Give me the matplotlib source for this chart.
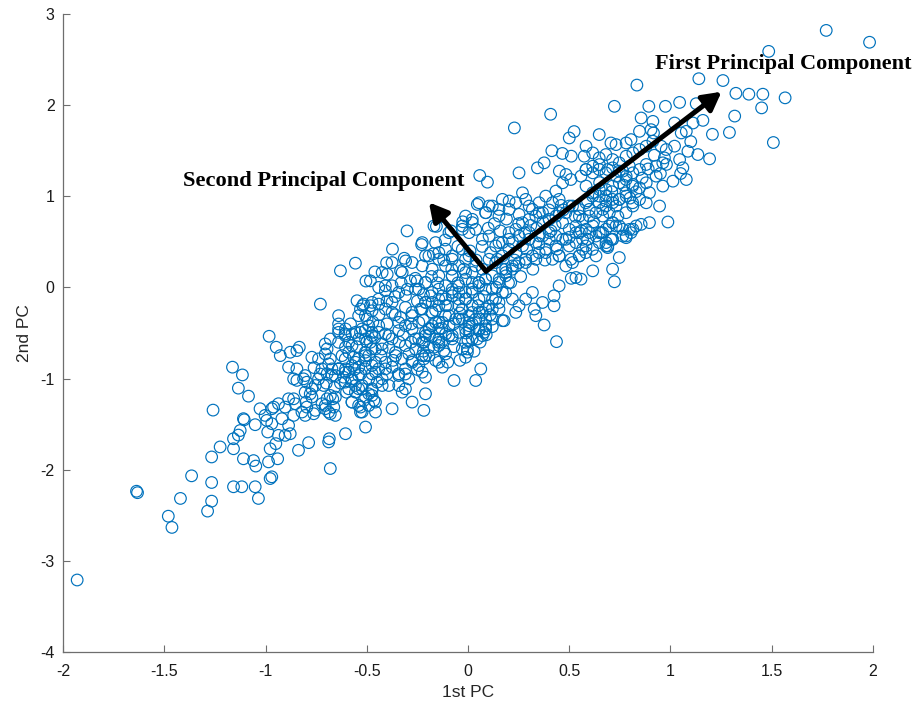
import matplotlib
matplotlib.use("Agg")
import matplotlib.pyplot as plt

plt.rcParams['axes.unicode_minus'] = False

# ---- data (1st PC, 2nd PC), grouped by region ----
tail_low = [
    (-1.930, -3.210), (-1.637, -2.236), (-1.632, -2.252), (-1.480, -2.510), (-1.462, -2.633),
    (-1.420, -2.315), (-1.365, -2.067), (-1.286, -2.454), (-1.266, -2.345), (-1.266, -2.140),
    (-1.266, -1.860), (-1.259, -1.346), (-1.224, -1.750), (-1.163, -0.875), (-1.158, -2.187),
    (-1.158, -1.770), (-1.158, -1.660), (-1.134, -1.620), (-1.125, -1.570), (-1.134, -1.105),
    (-1.117, -2.187), (-1.114, -0.960), (-1.109, -1.440), (-1.105, -1.452), (-1.109, -1.880),
    (-1.084, -1.193), (-1.059, -1.900), (-1.051, -1.506), (-1.048, -1.960), (-1.051, -2.187),
    (-1.035, -2.315), (-1.027, -1.331), (-1.002, -1.404), (-0.994, -1.459), (-0.989, -1.586),
    (-0.985, -1.914), (-0.982, -0.536), (-0.977, -2.097), (-0.969, -2.078), (-0.977, -1.770),
    (-0.969, -1.495), (-0.960, -1.313), (-0.949, -1.714), (-0.947, -0.656), (-0.940, -1.880),
    (-0.936, -1.623), (-0.936, -1.276), (-0.927, -0.748), (-0.919, -1.440), (-0.903, -1.313),
    (-0.903, -1.623), (-0.886, -1.514), (-0.878, -1.605), (-0.886, -0.875), (-0.878, -0.711),
    (-0.861, -1.003), (-0.861, -1.222), (-0.861, -1.404), (-0.845, -0.894), (-0.845, -1.020),
    (-0.845, -0.693), (-0.833, -0.656), (-0.837, -1.787), (-0.969, -1.331), (-0.804, -0.967),
    (-0.738, -1.003), (-0.713, -1.076), (-0.680, -1.185), (-0.705, -1.295), (-0.754, -1.349),
    (-0.853, -1.276), (-0.886, -1.222),
]

mid_left = [
    (-0.820, -1.367), (-0.804, -1.404), (-0.762, -1.386), (-0.796, -1.313), (-0.800, -1.258),
    (-0.721, -1.276), (-0.696, -1.222), (-0.668, -1.222), (-0.655, -1.404), (-0.680, -1.386),
    (-0.705, -1.331), (-0.663, -1.313), (-0.812, -1.003), (-0.796, -1.040), (-0.771, -1.112),
    (-0.779, -1.167), (-0.804, -1.149), (-0.771, -1.203), (-0.754, -1.076), (-0.771, -0.766),
    (-0.738, -0.784), (-0.705, -0.730), (-0.688, -0.839), (-0.672, -0.894), (-0.721, -0.894),
    (-0.696, -0.948), (-0.655, -0.967), (-0.705, -0.620), (-0.680, -0.566), (-0.639, -0.602),
    (-0.605, -0.656), (-0.622, -0.748), (-0.589, -0.711), (-0.564, -0.766), (-0.540, -0.875),
    (-0.605, -0.894), (-0.639, -0.894), (-0.573, -1.003), (-0.614, -0.985), (-0.556, -1.076),
    (-0.523, -1.112), (-0.506, -1.203), (-0.490, -1.295), (-0.457, -1.367), (-0.531, -1.367),
    (-0.639, -0.401), (-0.605, -0.456), (-0.573, -0.511), (-0.531, -0.493), (-0.506, -0.566),
    (-0.474, -0.493), (-0.482, -0.602), (-0.457, -0.675), (-0.490, -0.748), (-0.506, -0.803),
    (-0.474, -0.857), (-0.457, -0.930), (-0.490, -1.003), (-0.449, -1.040), (-0.474, -1.112),
    (-0.573, -1.258), (-0.531, -1.313), (-0.515, -1.240), (-0.474, -1.131), (-0.465, -1.240),
    (-0.506, -1.532), (-0.680, -1.987), (-0.688, -1.695), (-0.685, -1.660), (-0.605, -1.605),
    (-0.787, -1.703), (-0.729, -0.183), (-0.696, -0.675), (-0.680, -0.784), (-0.639, -0.456),
    (-0.607, -0.511), (-0.589, -0.602), (-0.556, -0.493), (-0.523, -0.456), (-0.498, -0.347),
    (-0.531, -0.237), (-0.474, -0.164), (-0.441, -0.128), (-0.655, -1.203), (-0.688, -1.367),
]

mid_core = [
    (-0.441, -0.420), (-0.391, -0.529), (-0.342, -0.383), (-0.276, -0.310), (-0.226, -0.237),
    (-0.177, -0.164), (-0.127, -0.092), (-0.078, -0.019), (-0.424, -0.675), (-0.358, -0.748),
    (-0.309, -0.638), (-0.259, -0.565), (-0.210, -0.493), (-0.160, -0.383), (-0.111, -0.310),
    (-0.144, -0.602), (-0.094, -0.529), (-0.276, -0.821), (-0.226, -0.748), (-0.342, -0.967),
    (-0.408, -0.894), (-0.457, -0.821), (-0.507, -0.748), (-0.556, -0.821), (-0.589, -0.930),
    (-0.639, -0.894), (-0.671, -0.967), (-0.606, -1.039), (-0.540, -1.112), (-0.474, -1.185),
    (-0.424, -1.076), (-0.309, -1.112), (-0.276, -1.258), (-0.144, -0.019), (-0.177, 0.200),
    (-0.111, 0.236), (-0.078, 0.127), (-0.210, 0.054), (-0.259, -0.019), (-0.309, -0.092),
    (-0.375, -0.164), (-0.408, 0.018), (-0.325, 0.164), (-0.276, 0.273), (-0.210, 0.346),
    (-0.144, 0.382), (-0.078, 0.309),
    (-0.556, 0.266), (-0.630, 0.182), (-0.482, 0.072), (-0.424, 0.164), (-0.399, 0.145),
    (-0.375, 0.273), (-0.333, 0.182), (-0.308, 0.291), (-0.284, 0.072), (-0.251, 0.072),
    (-0.243, -0.019), (-0.441, 0.000), (-0.408, -0.037), (-0.375, 0.018), (-0.342, -0.055),
    (-0.548, -0.146), (-0.515, -0.183), (-0.482, -0.201), (-0.540, -0.310), (-0.507, -0.310),
    (-0.474, -0.256), (-0.441, -0.183), (-0.408, -0.237), (-0.375, -0.274), (-0.333, -0.328),
    (-0.309, -0.219), (-0.276, -0.274), (-0.234, -0.237), (-0.210, -0.164), (-0.185, -0.092),
    (-0.177, -0.274), (-0.144, -0.201), (-0.111, -0.128), (-0.078, -0.055), (-0.045, -0.128),
    (-0.012, -0.055), (0.021, -0.019), (0.054, 0.054), (0.087, 0.091), (0.120, 0.127),
    (0.154, 0.091), (0.187, 0.164), (0.219, 0.236), (0.211, 0.054), (0.170, -0.055),
    (0.137, -0.128), (0.104, -0.201), (0.071, -0.274), (0.038, -0.347), (0.005, -0.310),
    (-0.028, -0.237), (-0.061, -0.347), (-0.094, -0.310), (-0.127, -0.383), (-0.144, -0.456),
    (-0.177, -0.420), (-0.210, -0.529), (-0.243, -0.565), (-0.276, -0.456), (-0.309, -0.420),
    (-0.342, -0.474), (-0.375, -0.565), (-0.408, -0.511), (-0.441, -0.493), (-0.474, -0.529),
    (-0.507, -0.474), (-0.540, -0.565), (-0.573, -0.638), (-0.606, -0.529), (-0.639, -0.493),
    (-0.639, -0.310), (-0.606, -0.784), (-0.573, -0.857), (-0.540, -0.784), (-0.507, -0.711),
    (-0.474, -0.675), (-0.424, -0.620), (-0.391, -0.657), (-0.358, -0.711), (-0.325, -0.784),
    (-0.292, -0.730), (-0.259, -0.675), (-0.226, -0.602), (-0.193, -0.657), (-0.160, -0.565),
    (-0.111, -0.511), (-0.078, -0.565), (-0.045, -0.493), (-0.012, -0.456), (0.021, -0.565),
    (0.054, -0.474), (0.087, -0.420), (0.120, -0.347), (0.170, -0.365), (0.071, -0.529),
    (-0.012, -0.602), (-0.003, -0.675), (-0.012, -0.766), (-0.111, -0.730), (-0.144, -0.638),
    (-0.193, -0.748), (-0.218, -0.784), (-0.243, -0.857), (-0.276, -0.803), (-0.309, -0.894),
    (-0.342, -0.948), (-0.375, -0.875), (-0.408, -0.821), (-0.441, -0.894), (-0.474, -0.948),
    (-0.507, -0.894), (-0.540, -0.967), (-0.573, -1.021), (-0.606, -0.930), (-0.639, -0.894),
    (-0.589, -1.112), (-0.556, -1.149), (-0.523, -1.076), (-0.490, -1.167), (-0.457, -1.258),
    (-0.540, -1.295), (-0.573, -1.258), (-0.523, -1.367), (-0.391, -1.076), (-0.325, -1.149),
    (-0.375, -1.331), (-0.210, -1.167), (-0.218, -1.349), (-0.127, -0.875), (-0.069, -1.021),
    (0.038, -1.021), (0.063, -0.894), (-0.210, -0.985), (-0.292, -1.003), (-0.424, -1.003),
    (-0.342, -1.076),
]

core_upper = [
    (-0.168, 0.674), (-0.226, 0.492), (-0.160, 0.492), (-0.094, 0.601), (-0.028, 0.638),
    (0.021, 0.711), (0.088, 0.820), (0.046, 0.911), (0.104, 0.893), (0.153, 0.783),
    (0.203, 0.856), (0.252, 0.802), (0.302, 0.893), (0.352, 0.820), (0.401, 0.747),
    (0.450, 0.820), (0.500, 0.893), (0.550, 0.783), (0.599, 0.856), (0.665, 0.783),
    (0.714, 0.711), (0.764, 0.638), (0.805, 0.601), (0.781, 0.546), (0.682, 0.492),
    (0.657, 0.601), (0.591, 0.528), (0.533, 0.601), (0.483, 0.528), (0.434, 0.455),
    (0.384, 0.382), (0.335, 0.309), (0.285, 0.273), (0.236, 0.237), (0.186, 0.200),
    (0.145, 0.309), (0.112, 0.382), (0.153, 0.492), (0.203, 0.528), (0.252, 0.565),
    (0.302, 0.601), (0.352, 0.565), (0.401, 0.528), (0.450, 0.346), (0.508, 0.309),
    (0.566, 0.419), (0.632, 0.346), (0.690, 0.437), (0.706, 0.528),
    (-0.226, 0.237), (-0.193, 0.346), (-0.144, 0.309), (-0.111, 0.419), (-0.078, 0.346),
    (-0.045, 0.237), (-0.012, 0.309), (0.021, 0.164), (0.054, 0.054), (0.088, -0.019),
    (0.121, -0.128), (0.153, -0.237), (-0.210, 0.054), (-0.177, -0.055), (-0.144, 0.127),
    (-0.111, 0.018), (-0.078, 0.127), (-0.045, 0.018), (-0.012, 0.091), (0.021, -0.055),
    (0.054, -0.128), (0.088, -0.237), (-0.210, -0.164), (-0.177, -0.274), (-0.144, -0.128),
    (-0.111, -0.201), (-0.078, -0.092), (-0.045, -0.201), (-0.012, -0.128), (0.021, -0.274),
    (0.054, -0.347), (-0.243, -0.383), (-0.193, -0.456), (-0.144, -0.383), (-0.094, -0.420),
    (-0.045, -0.347), (0.005, -0.383), (-0.210, -0.748), (-0.144, -0.821), (-0.226, -0.930),
    (-0.119, -0.693),
    (0.376, -0.412), (0.437, -0.595), (0.327, -0.237), (0.236, -0.274), (0.178, -0.365),
    (0.079, -0.493), (-0.028, -0.675), (-0.003, -0.711), (-0.168, -0.657), (-0.218, -0.602),
    (-0.144, -0.565), (-0.078, -0.529), (0.046, -0.565), (0.087, -0.456), (0.005, -0.474),
    (-0.026, 0.720), (-0.084, 0.620), (-0.142, 0.770), (-0.156, 0.670), (-0.301, 0.620),
    (-0.373, 0.420), (-0.315, 0.320), (-0.229, 0.470), (-0.171, 0.370), (-0.113, 0.520),
    (-0.402, 0.270), (-0.460, 0.170), (-0.504, 0.070),
]

core_right = [
    (0.058, 1.228), (0.096, 1.155), (0.252, 1.257), (0.343, 1.312), (0.376, 1.367),
    (0.451, 1.276), (0.484, 1.239), (0.508, 1.184), (0.467, 1.148), (0.434, 1.057),
    (0.583, 1.294), (0.616, 1.257), (0.649, 1.348), (0.690, 1.294), (0.731, 1.221),
    (0.764, 1.276), (0.797, 1.330),
    (0.813, 1.111), (0.780, 1.038), (0.747, 0.966), (0.714, 0.929), (0.681, 1.002),
    (0.648, 1.075), (0.615, 1.002), (0.582, 0.929), (0.549, 0.856), (0.516, 0.893),
    (0.483, 0.820), (0.450, 0.966), (0.417, 0.929), (0.384, 1.002), (0.351, 0.929),
    (0.318, 0.856), (0.285, 0.966), (0.269, 1.038), (0.236, 0.929), (0.203, 0.948),
    (0.170, 0.966), (0.153, 0.856), (0.120, 0.893), (0.087, 0.820), (0.054, 0.929),
    (0.021, 0.747), (-0.012, 0.783), (-0.028, 0.674), (0.005, 0.601), (0.038, 0.637),
    (0.071, 0.528), (0.104, 0.564), (0.137, 0.455), (0.170, 0.492), (0.203, 0.601),
    (0.236, 0.637), (0.269, 0.710), (0.302, 0.747), (0.335, 0.783), (0.368, 0.820),
    (0.401, 0.747), (0.434, 0.783), (0.467, 0.710), (0.500, 0.637), (0.533, 0.674),
    (0.566, 0.747), (0.599, 0.783), (0.632, 0.820), (0.665, 0.856), (0.698, 0.820),
    (0.731, 0.893), (0.780, 0.820), (0.813, 0.929), (0.830, 0.674), (0.797, 0.637),
    (0.764, 0.564), (0.731, 0.674), (0.698, 0.674), (0.665, 0.601), (0.632, 0.564),
    (0.599, 0.601), (0.566, 0.528), (0.533, 0.492), (0.500, 0.455), (0.467, 0.528),
    (0.434, 0.564), (0.401, 0.601), (0.368, 0.564), (0.335, 0.492), (0.302, 0.528),
    (0.269, 0.455), (0.236, 0.382), (0.203, 0.419), (0.170, 0.346), (0.137, 0.273),
    (0.104, 0.309), (0.071, 0.200), (0.038, 0.236), (0.005, 0.346), (-0.028, 0.419),
    (-0.012, 0.163), (0.021, 0.054), (0.054, 0.018), (0.087, 0.091), (0.120, -0.019),
    (0.153, 0.054), (0.186, 0.127), (0.219, 0.200), (0.252, 0.273), (0.285, 0.309),
    (0.318, 0.346), (0.351, 0.382), (0.384, 0.419), (0.417, 0.309), (0.450, 0.346),
    (0.483, 0.236), (0.516, 0.273), (0.549, 0.346), (0.582, 0.382), (0.615, 0.419),
    (0.648, 0.492), (0.681, 0.455), (0.714, 0.528), (0.533, 0.109), (0.450, 0.018),
    (0.425, -0.092), (0.425, -0.201), (0.368, -0.165), (0.335, -0.310), (0.318, -0.055),
    (0.285, -0.128), (0.252, -0.201), (0.219, -0.128), (0.186, -0.055), (0.153, -0.165),
    (0.120, -0.238), (0.087, -0.347), (0.054, -0.274), (0.021, -0.201), (-0.012, -0.128),
    (-0.045, -0.055), (0.005, -0.420), (0.054, -0.456), (-0.028, -0.347),
]

core_fill = [
    (-0.40, -0.40), (-0.36, -0.30), (-0.32, -0.52), (-0.28, -0.40), (-0.25, -0.15),
    (-0.22, -0.36), (-0.19, -0.52), (-0.16, -0.25), (-0.13, -0.45), (-0.10, -0.20),
    (-0.07, -0.40), (-0.04, -0.28), (-0.01, -0.50), (0.02, -0.40), (0.05, -0.20),
    (0.08, -0.10), (0.11, -0.30), (0.14, 0.00), (0.17, 0.20), (0.20, 0.05),
    (0.23, 0.30), (0.26, 0.12), (0.29, 0.42), (0.32, 0.20), (0.35, 0.48),
    (0.38, 0.30), (0.41, 0.62), (0.44, 0.42), (0.47, 0.85), (0.50, 0.55),
    (0.53, 0.78), (0.56, 0.62), (0.59, 0.95), (0.62, 0.72), (0.65, 1.15),
    (0.68, 0.95), (0.71, 1.05), (0.74, 0.78), (0.77, 1.12), (0.80, 0.98),
    (0.83, 1.05), (0.86, 1.20), (0.89, 1.30), (0.92, 1.45), (0.95, 1.25),
    (0.98, 1.35), (1.02, 1.55), (1.05, 1.25), (1.10, 1.60),
    (-0.58, -0.40), (-0.55, -0.65), (-0.52, -0.20), (-0.49, -0.42), (-0.46, -0.55),
    (-0.43, -0.75), (-0.40, -0.95), (-0.37, -0.80), (-0.34, -0.60), (-0.31, -0.95),
    (-0.28, -0.60), (-0.25, -0.90), (-0.22, -0.70), (-0.19, -0.45), (-0.16, -0.80),
    (-0.13, -0.60), (-0.10, -0.82), (-0.07, -0.65), (-0.04, -0.80), (0.00, -0.58),
    (0.03, -0.70), (0.06, -0.60), (0.09, -0.52), (0.12, -0.43),
    (-0.05, 0.05), (-0.02, 0.20), (0.01, 0.40), (0.04, 0.30), (0.07, 0.45),
    (0.10, 0.65), (0.13, 0.70), (0.16, 0.62), (0.19, 0.75), (0.22, 0.50),
    (0.25, 0.70), (0.28, 0.60), (0.31, 0.68), (0.34, 0.65), (0.37, 0.72),
    (0.40, 0.85), (0.43, 0.68), (0.46, 0.90),
    (-0.05, 0.45), (-0.08, 0.20), (-0.12, 0.30), (-0.15, 0.05), (-0.18, 0.12),
    (-0.22, -0.08), (-0.26, 0.10), (-0.30, -0.02), (-0.33, 0.05), (-0.36, -0.10),
    (-0.40, -0.15), (-0.44, -0.30), (-0.47, -0.38), (-0.50, -0.60), (-0.53, -0.95),
    (-0.56, -0.90), (-0.60, -1.15), (-0.63, -1.05), (-0.66, -1.10), (-0.70, -1.05),
    (-0.73, -0.95), (-0.76, -0.88),
]

upper_band = [
    (0.855, 1.859), (0.913, 1.822), (0.904, 1.731), (0.916, 1.695), (0.847, 1.713),
    (0.805, 1.622), (0.781, 1.585), (0.731, 1.567), (0.706, 1.585), (0.648, 1.677),
    (0.583, 1.549), (0.574, 1.440), (0.616, 1.476), (0.648, 1.421), (0.681, 1.458),
    (0.714, 1.403), (0.747, 1.367), (0.781, 1.440), (0.814, 1.476), (0.847, 1.513),
    (0.880, 1.549), (0.913, 1.604), (0.954, 1.549), (0.979, 1.513), (0.970, 1.421),
    (0.962, 1.367), (0.929, 1.330), (0.880, 1.349), (0.847, 1.294), (0.814, 1.257),
    (0.781, 1.221), (0.747, 1.276), (0.714, 1.312), (0.681, 1.257), (0.648, 1.294),
    (0.616, 1.330), (0.583, 1.294), (0.558, 1.221), (0.583, 1.112), (0.616, 1.039),
    (0.648, 1.002), (0.681, 1.075), (0.714, 1.112), (0.747, 1.148), (0.781, 1.184),
    (0.814, 1.130), (0.847, 1.093), (0.880, 1.148), (0.929, 1.221), (0.962, 1.112),
    (1.012, 1.166), (1.078, 1.184), (1.061, 1.312), (1.045, 1.403), (1.086, 1.494),
    (1.135, 1.458), (1.193, 1.411), (1.053, 1.695), (1.078, 1.713), (1.020, 1.804),
    (1.111, 1.804), (1.160, 1.833), (0.723, 1.987), (0.893, 1.987), (0.975, 1.987),
    (1.045, 2.030), (1.127, 2.016),
    (0.648, 0.929), (0.681, 0.893), (0.714, 0.966), (0.747, 0.966), (0.781, 1.002),
    (0.814, 0.893), (0.847, 0.966), (0.880, 0.929), (0.896, 1.039), (0.946, 0.893),
    (0.987, 0.718), (0.896, 0.711), (0.855, 0.692), (0.814, 0.638), (0.781, 0.565),
    (0.747, 0.674), (0.714, 0.711), (0.681, 0.638), (0.648, 0.601), (0.616, 0.674),
    (0.583, 0.638), (0.550, 0.601), (0.714, 0.528), (0.690, 0.455), (0.747, 0.328),
    (0.714, 0.200), (0.616, 0.182), (0.558, 0.091), (0.723, 0.062), (0.550, 0.346),
    (0.583, 0.455), (0.510, 0.100),
    (0.524, 1.710), (0.500, 1.640), (0.510, 1.440), (0.408, 1.900), (0.229, 1.750),
    (0.414, 1.500), (0.466, 1.470),
]

tail_high = [
    (1.769, 2.820), (1.983, 2.690), (1.485, 2.590), (0.834, 2.220), (1.140, 2.290),
    (1.259, 2.270), (1.323, 2.130), (1.387, 2.120), (1.456, 2.120), (1.566, 2.080),
    (1.450, 1.970), (1.317, 1.880), (1.291, 1.700), (1.207, 1.680), (1.508, 1.590),
]

groups = [tail_low, mid_left, mid_core, core_upper, core_right, core_fill, upper_band, tail_high]
pc1 = [p[0] for g in groups for p in g]
pc2 = [p[1] for g in groups for p in g]

# principal component arrows (origin and tips)
origin = (0.089, 0.178)
first_tip = (1.252, 2.147)
second_tip = (-0.193, 0.933)

x_ticks = [-2, -1.5, -1, -0.5, 0, 0.5, 1, 1.5, 2]
x_tick_labels = ['-2', '-1.5', '-1', '-0.5', '0', '0.5', '1', '1.5', '2']
y_ticks = [-4, -3, -2, -1, 0, 1, 2, 3]
y_tick_labels = ['-4', '-3', '-2', '-1', '0', '1', '2', '3']

# ---- figure ----
fig = plt.figure(figsize=(9.19, 7.10), dpi=100)
ax = fig.add_axes([63 / 919, 58 / 710, 810 / 919, 638 / 710])

ax.scatter(pc1, pc2, s=70, facecolors='none', edgecolors='#0072BD',
           linewidths=0.85, zorder=2, clip_on=False)

arrow_kw = dict(arrowstyle='-|>,head_width=0.6,head_length=1.1',
                lw=3.6, color='black', shrinkA=0, shrinkB=0)
ax.annotate('', xy=first_tip, xytext=origin, arrowprops=arrow_kw, zorder=3)
ax.annotate('', xy=second_tip, xytext=origin, arrowprops=arrow_kw, zorder=3)

ax.text(0.921, 2.453, 'First Principal Component', family='Liberation Serif',
        fontweight='bold', fontsize=16, ha='left', va='center', zorder=4)
ax.text(-1.406, 1.163, 'Second Principal Component', family='Liberation Serif',
        fontweight='bold', fontsize=16.2, ha='left', va='center', zorder=4)

ax.set_xlim(-2, 2)
ax.set_ylim(-4, 3)
ax.set_xticks(x_ticks)
ax.set_xticklabels(x_tick_labels)
ax.set_yticks(y_ticks)
ax.set_yticklabels(y_tick_labels)

for side in ['top', 'right']:
    ax.spines[side].set_visible(False)
for side in ['left', 'bottom']:
    ax.spines[side].set_color('#6e6e6e')
    ax.spines[side].set_linewidth(0.9)
ax.tick_params(direction='in', length=5, width=0.8, color='#6e6e6e',
               labelcolor='#1a1a1a', labelsize=11.5)
ax.tick_params(axis='x', pad=9)
ax.tick_params(axis='y', pad=6)
for lab in ax.get_xticklabels() + ax.get_yticklabels():
    lab.set_family('Liberation Sans')

ax.set_xlabel('1st PC', family='Liberation Sans', fontsize=12.5, color='#262626', labelpad=4)
ax.set_ylabel('2nd PC', family='Liberation Sans', fontsize=12.5, color='#262626', labelpad=6)

fig.savefig('out.png', dpi=100)
